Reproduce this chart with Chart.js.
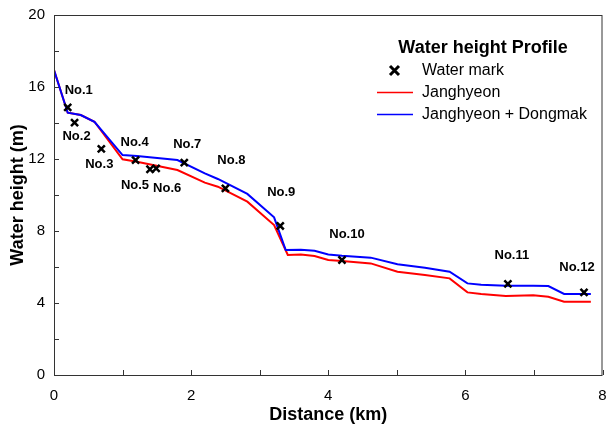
<!DOCTYPE html>
<html>
<head>
<meta charset="utf-8">
<script src="https://cdn.jsdelivr.net/npm/chart.js@4/dist/chart.umd.min.js"></script>
<style>
  html, body { margin: 0; padding: 0; background: #fff; }
  #wrap { width: 610px; height: 426px; }
</style>
</head>
<body>
<div id="wrap"><canvas id="chart" width="610" height="426"></canvas></div>
<script>
// Janghyeon (red)
const distJang = [0, 0.2, 0.39, 0.59, 1.0, 1.21, 1.8, 2.2, 2.39, 2.82, 3.21, 3.41, 3.6, 3.8, 4.0, 4.2, 4.62, 5.01, 5.41, 5.77, 6.03, 6.23, 6.59, 6.99, 7.21, 7.44, 7.83];
const heightJang = [16.94, 14.57, 14.44, 14.07, 11.98, 11.85, 11.39, 10.69, 10.46, 9.63, 8.33, 6.67, 6.7, 6.61, 6.39, 6.33, 6.2, 5.74, 5.56, 5.37, 4.59, 4.5, 4.39, 4.43, 4.35, 4.07, 4.07];

// Janghyeon + Dongmak (blue)
const distBoth = [0, 0.2, 0.39, 0.59, 1.0, 1.21, 1.8, 2.2, 2.39, 2.82, 3.21, 3.38, 3.6, 3.8, 4.0, 4.2, 4.62, 5.01, 5.41, 5.77, 6.03, 6.23, 6.59, 6.99, 7.21, 7.44, 7.83];
const heightBoth = [16.94, 14.57, 14.44, 14.07, 12.22, 12.17, 11.94, 11.2, 10.89, 10.06, 8.76, 6.94, 6.96, 6.9, 6.7, 6.63, 6.52, 6.15, 5.96, 5.74, 5.09, 5.02, 4.96, 4.96, 4.94, 4.5, 4.5];

// water marks
const markNames = ['No.1', 'No.2', 'No.3', 'No.4', 'No.5', 'No.6', 'No.7', 'No.8', 'No.9', 'No.10', 'No.11', 'No.12'];
const markDist = [0.2, 0.3, 0.69, 1.19, 1.4, 1.49, 1.9, 2.5, 3.3, 4.2, 6.62, 7.73];
const markHeight = [14.87, 14.02, 12.56, 11.94, 11.43, 11.48, 11.8, 10.37, 8.28, 6.39, 5.06, 4.59];

// label offsets from each mark, in pixels
const labelOffsets = [[11, -17], [2, 14], [-2, 16], [-1, -18], [-15, 16], [11, 20], [3, -18], [6, -28], [1, -34], [5, -26], [4, -28], [-7, -25]];

const pairs = (xs, ys) => xs.map((x, i) => ({ x, y: ys[i] }));
const FONT = '"Liberation Sans", Arial, sans-serif';

const extras = {
  id: 'extras',
  afterDatasetsDraw(chart) {
    const { ctx, chartArea: a, scales: { x, y } } = chart;
    ctx.save();
    // frame
    ctx.strokeStyle = '#333';
    ctx.lineWidth = 1;
    ctx.strokeRect(a.left + 0.5, a.top + 0.5, a.right - a.left - 1, a.bottom - a.top);
    // inward ticks
    ctx.beginPath();
    y.ticks.forEach(t => {
      const py = Math.round(y.getPixelForValue(t.value)) + 0.5;
      ctx.moveTo(a.left, py); ctx.lineTo(a.left + 5, py);
    });
    x.ticks.forEach(t => {
      const px = Math.round(x.getPixelForValue(t.value)) + 0.5;
      ctx.moveTo(px, a.bottom); ctx.lineTo(px, a.bottom - 5);
    });
    ctx.stroke();

    // mark labels
    ctx.fillStyle = '#000';
    ctx.font = 'bold 13px ' + FONT;
    ctx.textAlign = 'center';
    ctx.textBaseline = 'middle';
    markNames.forEach((n, i) => {
      const px = x.getPixelForValue(markDist[i]) + labelOffsets[i][0];
      const py = y.getPixelForValue(markHeight[i]) + labelOffsets[i][1];
      ctx.fillText(n, px, py);
    });

    // legend
    ctx.font = 'bold 18px ' + FONT;
    ctx.fillText('Water height Profile', 483, 48);
    ctx.font = '16px ' + FONT;
    ctx.textAlign = 'left';
    const ds = chart.data.datasets;
    // marker entry
    ctx.strokeStyle = '#000';
    ctx.lineWidth = 3;
    ctx.beginPath();
    ctx.moveTo(390, 66); ctx.lineTo(399, 75);
    ctx.moveTo(399, 66); ctx.lineTo(390, 75);
    ctx.stroke();
    ctx.fillText(ds[2].label, 422, 71);
    [[ds[0], 92], [ds[1], 114]].forEach(([d, ly]) => {
      ctx.strokeStyle = d.borderColor;
      ctx.lineWidth = 1.5;
      ctx.beginPath();
      ctx.moveTo(377, ly + 0.5); ctx.lineTo(413, ly + 0.5);
      ctx.stroke();
      ctx.fillText(d.label, 422, ly + 1);
    });
    ctx.restore();
  }
};

new Chart(document.getElementById('chart'), {
  type: 'scatter',
  data: {
    datasets: [
      {
        label: 'Janghyeon',
        data: pairs(distJang, heightJang),
        showLine: true,
        borderColor: '#ff0000',
        borderWidth: 2,
        pointRadius: 0,
        order: 3
      },
      {
        label: 'Janghyeon + Dongmak',
        data: pairs(distBoth, heightBoth),
        showLine: true,
        borderColor: '#0000ff',
        borderWidth: 2,
        pointRadius: 0,
        order: 2
      },
      {
        label: 'Water mark',
        data: pairs(markDist, markHeight),
        pointStyle: 'crossRot',
        pointRadius: 5,
        borderColor: '#000',
        borderWidth: 2.5,
        order: 1
      }
    ]
  },
  options: {
    responsive: false,
    animation: false,
    layout: { padding: { left: 0, top: 15, right: 3, bottom: 0 } },
    plugins: { legend: { display: false }, tooltip: { enabled: false } },
    scales: {
      x: {
        type: 'linear',
        min: 0, max: 8,
        ticks: {
          stepSize: 1,
          color: '#000',
          font: { size: 15, family: FONT },
          maxRotation: 0,
          padding: 12,
          callback: v => (v % 2 === 0 ? v : '')
        },
        grid: { display: false, drawTicks: false },
        border: { display: false },
        title: {
          display: true,
          text: 'Distance (km)',
          color: '#000',
          font: { size: 18, weight: 'bold', family: FONT },
          padding: { top: 0, bottom: 0 }
        },
        afterFit: s => { s.height = 51; s.paddingLeft = 0; s.paddingRight = 0; }
      },
      y: {
        min: 0, max: 20,
        ticks: {
          stepSize: 2,
          color: '#000',
          font: { size: 15, family: FONT },
          padding: 9,
          callback: v => (v % 4 === 0 ? v : '')
        },
        grid: { display: false, drawTicks: false },
        border: { display: false },
        title: {
          display: true,
          text: 'Water height (m)',
          color: '#000',
          font: { size: 18, weight: 'bold', family: FONT },
          padding: { top: 7, bottom: 0 }
        },
        afterFit: s => { s.width = 54; s.paddingTop = 0; s.paddingBottom = 0; }
      }
    }
  },
  plugins: [extras]
});
</script>
</body>
</html>
